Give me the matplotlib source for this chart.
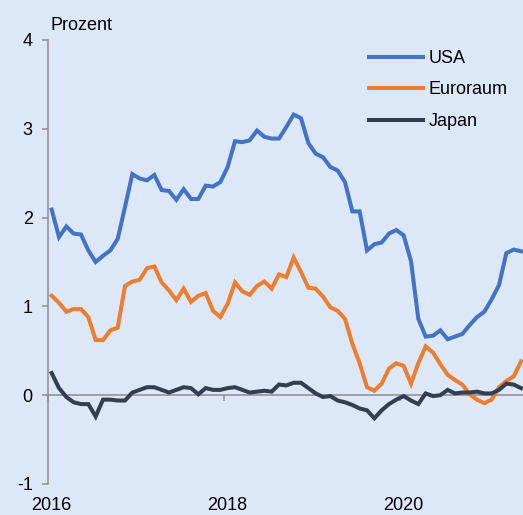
import numpy as np
import matplotlib
matplotlib.use("Agg")
from matplotlib import pyplot as plt
from matplotlib.ticker import FixedLocator

plt.rcParams['font.family'] = ['Liberation Sans', 'DejaVu Sans']
plt.rcParams['axes.unicode_minus'] = False

# monthly values, Jan 2016 .. May 2021
usa = [2.09, 1.78, 1.90, 1.82, 1.81, 1.63, 1.50, 1.57, 1.63, 1.76,
       2.12, 2.49, 2.44, 2.42, 2.48, 2.31, 2.30, 2.20, 2.32, 2.21,
       2.21, 2.36, 2.35, 2.40, 2.57, 2.86, 2.85, 2.87, 2.98, 2.91,
       2.89, 2.89, 3.02, 3.16, 3.12, 2.84, 2.72, 2.68, 2.57, 2.53,
       2.40, 2.07, 2.07, 1.63, 1.70, 1.72, 1.82, 1.86, 1.80, 1.51,
       0.86, 0.66, 0.67, 0.73, 0.63, 0.66, 0.69, 0.79, 0.88, 0.94,
       1.08, 1.24, 1.60, 1.64, 1.62]
euro = [1.12, 1.04, 0.94, 0.97, 0.97, 0.88, 0.62, 0.62, 0.73, 0.76,
        1.23, 1.28, 1.30, 1.43, 1.45, 1.27, 1.18, 1.07, 1.20, 1.05,
        1.12, 1.15, 0.95, 0.88, 1.03, 1.27, 1.17, 1.13, 1.23, 1.28,
        1.20, 1.36, 1.33, 1.55, 1.39, 1.21, 1.20, 1.11, 0.99, 0.95,
        0.86, 0.58, 0.36, 0.09, 0.05, 0.13, 0.30, 0.36, 0.33, 0.13,
        0.36, 0.55, 0.48, 0.35, 0.23, 0.17, 0.12, 0.01, -0.05, -0.09,
        -0.05, 0.09, 0.16, 0.21, 0.38]
japan = [0.25, 0.08, -0.02, -0.08, -0.10, -0.10, -0.24, -0.05, -0.05, -0.06,
         -0.06, 0.03, 0.06, 0.09, 0.09, 0.06, 0.03, 0.06, 0.09, 0.08,
         0.01, 0.08, 0.06, 0.06, 0.08, 0.09, 0.06, 0.03, 0.04, 0.05,
         0.04, 0.12, 0.11, 0.14, 0.14, 0.08, 0.02, -0.02, -0.01, -0.06,
         -0.08, -0.11, -0.15, -0.17, -0.26, -0.17, -0.10, -0.05, -0.01, -0.06,
         -0.10, 0.02, -0.01, 0.00, 0.06, 0.02, 0.03, 0.03, 0.04, 0.02,
         0.02, 0.06, 0.13, 0.12, 0.08]
labels = ["USA", "Euroraum", "Japan"]
colors = ["#4472c4", "#ed7d31", "#333f50"]
year_ticks = [2016, 2018, 2020]

x = 2016 + (np.arange(len(usa)) + 0.5) / 12

bg = "#dce8f7"
fs = 13
fig = plt.figure(figsize=(5.23, 5.15), dpi=100, facecolor=bg)
ax = fig.add_axes([48 / 523, 31 / 515, 475 / 523, 444 / 515], facecolor=bg)

for vals, lab, col in zip([usa, euro, japan], labels, colors):
    ax.plot(x, vals, color=col, lw=2.9, label=lab, zorder=3, solid_joinstyle='miter')

ax.set_xlim(2016, 2016 + 475 / 88)
ax.set_ylim(-1, 4)
ax.set_yticks([-1, 0, 1, 2, 3, 4])

for s in ['top', 'right']:
    ax.spines[s].set_visible(False)
ax.spines['bottom'].set_position(('data', 0))
for s in ['left', 'bottom']:
    ax.spines[s].set_color('#8c8c8c')
    ax.spines[s].set_linewidth(1.1)
    ax.spines[s].set_zorder(2)

# labels sit half a month to the right of the year tick marks
ax.xaxis.set_major_locator(FixedLocator([y + 0.5 / 12 for y in year_ticks]))
ax.set_xticklabels([str(y) for y in year_ticks])
ax.xaxis.set_minor_locator(FixedLocator(year_ticks))
ax.tick_params(axis='x', which='major', length=0, pad=73.5, labelsize=fs)
ax.tick_params(axis='x', which='minor', length=4, width=1.1, color='#8c8c8c', direction='out')
ax.tick_params(axis='y', length=4, width=1.1, color='#8c8c8c', pad=7, labelsize=fs)

fig.text(50 / 523, 1 - 30 / 515, "Prozent", fontsize=fs, va='baseline', ha='left')

ax.legend(loc='upper left', bbox_to_anchor=(369 / 523, 1 - 50 / 515),
          bbox_transform=fig.transFigure, frameon=False, fontsize=fs,
          handlelength=3.0, handletextpad=0.3, labelspacing=0.8,
          borderpad=0, borderaxespad=0)

fig.savefig("out.png", dpi=100, facecolor=bg)
